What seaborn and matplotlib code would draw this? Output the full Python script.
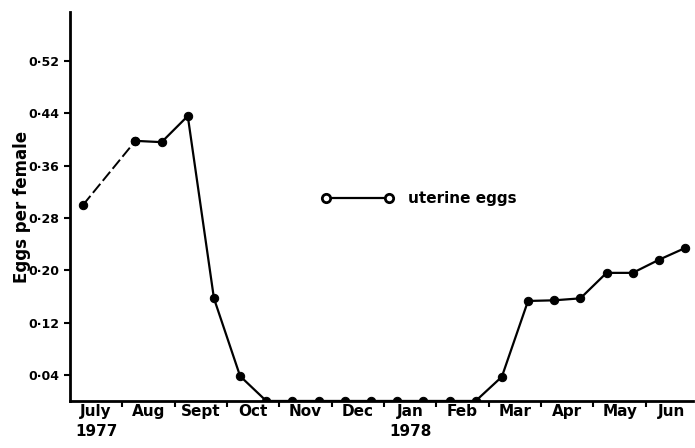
import numpy as np
import pandas as pd
import matplotlib
matplotlib.use('Agg')
import matplotlib.pyplot as plt
import seaborn as sns

# fortnightly samples, July 1977 - June 1978 (second July sample missing)
months = ['July\n1977', 'Aug', 'Sept', 'Oct', 'Nov', 'Dec',
          'Jan\n1978', 'Feb', 'Mar', 'Apr', 'May', 'Jun']
sample_idx = list(range(24))
uterine_eggs = [0.300, np.nan, 0.398, 0.396, 0.436, 0.157, 0.038, 0.0,
                0.0, 0.0, 0.0, 0.0, 0.0, 0.0, 0.0, 0.0,
                0.037, 0.153, 0.154, 0.157, 0.196, 0.196, 0.216, 0.234]
y_ticks = [0.04, 0.12, 0.20, 0.28, 0.36, 0.44, 0.52]
y_tick_labels = ['0·04', '0·12', '0·20', '0·28', '0·36', '0·44', '0·52']

sns.set_style('ticks')
plt.rcParams['font.family'] = ['DejaVu Sans']
plt.rcParams.update({'text.color': 'black', 'axes.labelcolor': 'black',
                     'xtick.color': 'black', 'ytick.color': 'black'})

df = pd.DataFrame({'idx': sample_idx, 'eggs': uterine_eggs})
df['month'] = 0.25 + 0.5 * df['idx']  # position in months from 1 July

fig = plt.figure(figsize=(6.95, 4.48), dpi=100)
ax = fig.add_axes([0.1007, 0.105, 0.8963, 0.868])

# solid line where consecutive samples exist
solid = df[df['idx'] >= 2]
sns.lineplot(data=solid, x='month', y='eggs', ax=ax, color='black',
             linewidth=1.6, marker='o', markersize=6, markeredgecolor='black')
# dashed bridge over the missing July sample
gap = df[df['idx'].isin([0, 2])]
sns.lineplot(data=gap, x='month', y='eggs', ax=ax, color='black',
             linewidth=1.4, linestyle=(0, (6, 2)), marker='o', markersize=6,
             markeredgecolor='black')

# legend drawn as a key line inside the axes
key = pd.DataFrame({'x': [4.9, 6.1], 'y': [0.31, 0.31]})
sns.lineplot(data=key, x='x', y='y', ax=ax, color='black', linewidth=1.6,
             marker='o', markersize=6, markerfacecolor='white',
             markeredgewidth=2, markeredgecolor='black')
ax.text(6.45, 0.31, 'uterine eggs', fontsize=11, fontweight='bold',
        va='center', ha='left', color='black')

ax.set_xlim(0, 11.9)
ax.set_ylim(0, 0.595)
ax.set_xticks(np.arange(1, 12))
ax.set_xticklabels([])
ax.set_xticks(np.arange(12) + 0.5, minor=True)
ax.set_xticklabels(months, minor=True, fontsize=11, fontweight='bold',
                   linespacing=1.45)
ax.tick_params(axis='x', which='minor', length=0, pad=2)
ax.tick_params(axis='x', which='major', length=4, width=1.5, direction='out')
ax.set_yticks(y_ticks)
ax.set_yticklabels(y_tick_labels, fontsize=9, fontweight='bold')
ax.tick_params(axis='y', length=4, width=1.5, direction='out')

ax.set_xlabel('')
ax.set_ylabel('Eggs per female', fontsize=12, fontweight='bold', labelpad=-2)

sns.despine(ax=ax)
for side in ['left', 'bottom']:
    ax.spines[side].set_linewidth(2)
    ax.spines[side].set_color('black')

fig.savefig('out.png', dpi=100, facecolor='white')
